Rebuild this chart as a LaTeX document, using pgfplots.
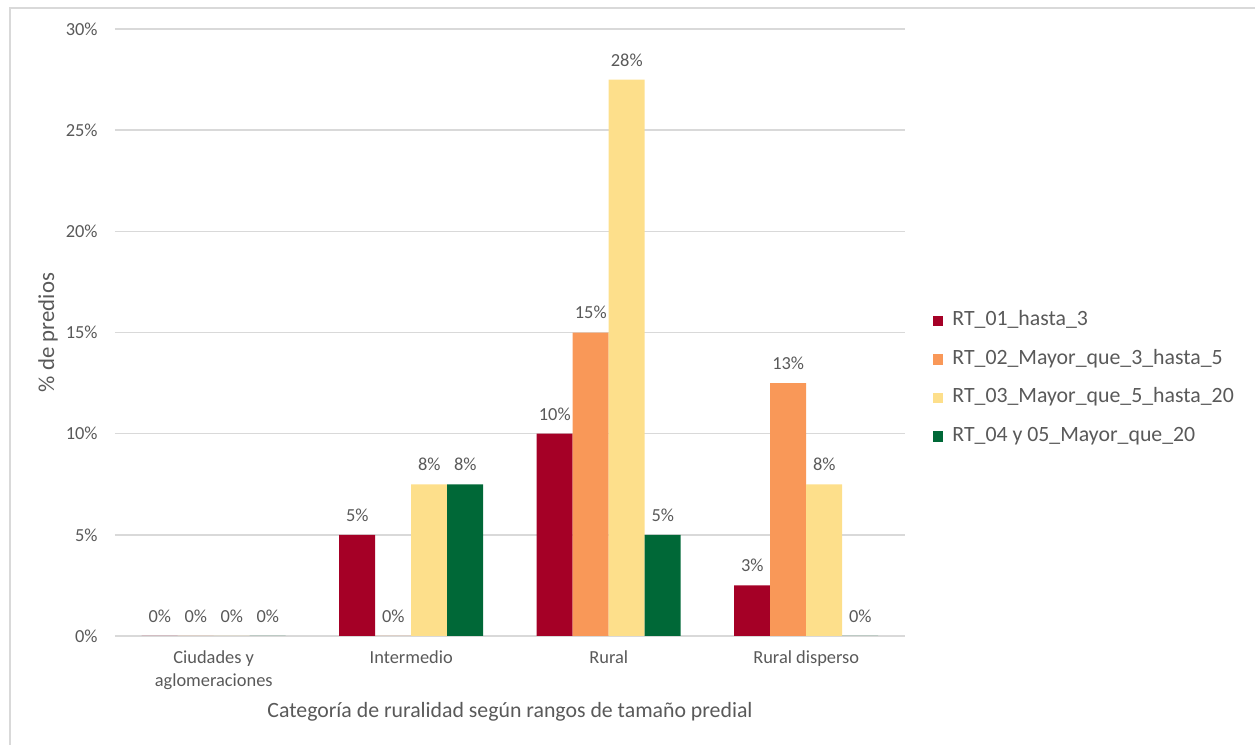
\documentclass[border=0pt]{standalone}
\usepackage{fontspec}
\setmainfont{Carlito}
\usepackage{pgfplots}
\pgfplotsset{compat=1.18}

\definecolor{rtA}{HTML}{A50026}
\definecolor{rtB}{HTML}{F99858}
\definecolor{rtC}{HTML}{FDDF8B}
\definecolor{rtD}{HTML}{006837}
\definecolor{txt}{HTML}{595959}
\definecolor{gridc}{HTML}{D9D9D9}

\pgfplotsset{
  legsq/.style={legend image code/.code={\fill[##1] (0pt,-2.6pt) rectangle (5.2pt,2.6pt);}},
}

\begin{document}
\begin{tikzpicture}
\path[use as bounding box] (0,0) rectangle (627.5pt,372.5pt);
\draw[gridc, line width=1pt] (5pt,0) -- (5pt,368.5pt) -- (627.5pt,368.5pt);
\begin{axis}[
  at={(57.5pt,54.5pt)}, anchor=south west,
  scale only axis, width=395pt, height=303.5pt,
  ybar=0pt, bar width=18pt,
  xmin=-0.5, xmax=3.5, ymin=0, ymax=30,
  clip=false,
  axis line style={draw=none},
  major tick length=0pt,
  ymajorgrids, grid style={gridc, line width=0.75pt},
  xtick={0,1,2,3},
  xticklabels={{Ciudades y\\aglomeraciones},Intermedio,Rural,Rural disperso},
  xticklabel style={align=center, anchor=north, inner sep=0pt, yshift=-7pt,
    font=\fontsize{9.2}{11.5}\selectfont, text=txt},
  ytick={0,5,...,30},
  yticklabel={\pgfmathprintnumber[assume math mode=true]{\tick}\%},
  yticklabel style={anchor=east, inner sep=0pt, xshift=-8.5pt,
    font=\fontsize{9.2}{11}\selectfont, text=txt},
  xlabel={Categoría de ruralidad según rangos de tamaño predial},
  xlabel style={at={(axis description cs:0.5,-0.1252)}, anchor=center,
    font=\fontsize{10.9}{12}\selectfont, text=txt},
  ylabel={\% de predios},
  ylabel style={at={(axis description cs:-0.0848,0.5)}, anchor=center,
    font=\fontsize{11.4}{12}\selectfont, text=txt},
  nodes near coords={\pgfmathprintnumber[fixed,precision=0,assume math mode=true]{\pgfplotspointmeta}\%},
  every node near coord/.append style={anchor=south, inner sep=0pt, yshift=6.5pt,
    font=\fontsize{9.2}{11}\selectfont, text=txt},
  legend style={at={(axis description cs:1,0.424)}, anchor=west, xshift=14pt,
    draw=none, fill=none, inner sep=0pt, outer sep=0pt,
    row sep=10.25pt, column sep=4.5pt,
    nodes={inner sep=0pt, text height=7pt, text depth=2pt,
      font=\fontsize{10.9}{12}\selectfont, text=txt}},
  legend cell align=left,
]
\addplot[fill=rtA, draw=none, legsq] coordinates {(0,0) (1,5) (2,10) (3,2.5)};
\addplot[fill=rtB, draw=none, legsq] coordinates {(0,0) (1,0) (2,15) (3,12.5)};
\addplot[fill=rtC, draw=none, legsq] coordinates {(0,0) (1,7.5) (2,27.5) (3,7.5)};
\addplot[fill=rtD, draw=none, legsq] coordinates {(0,0) (1,7.5) (2,5) (3,0)};
\legend{RT\_01\_hasta\_3, RT\_02\_Mayor\_que\_3\_hasta\_5, RT\_03\_Mayor\_que\_5\_hasta\_20, RT\_04 y 05\_Mayor\_que\_20}
\end{axis}
\end{tikzpicture}
\end{document}
